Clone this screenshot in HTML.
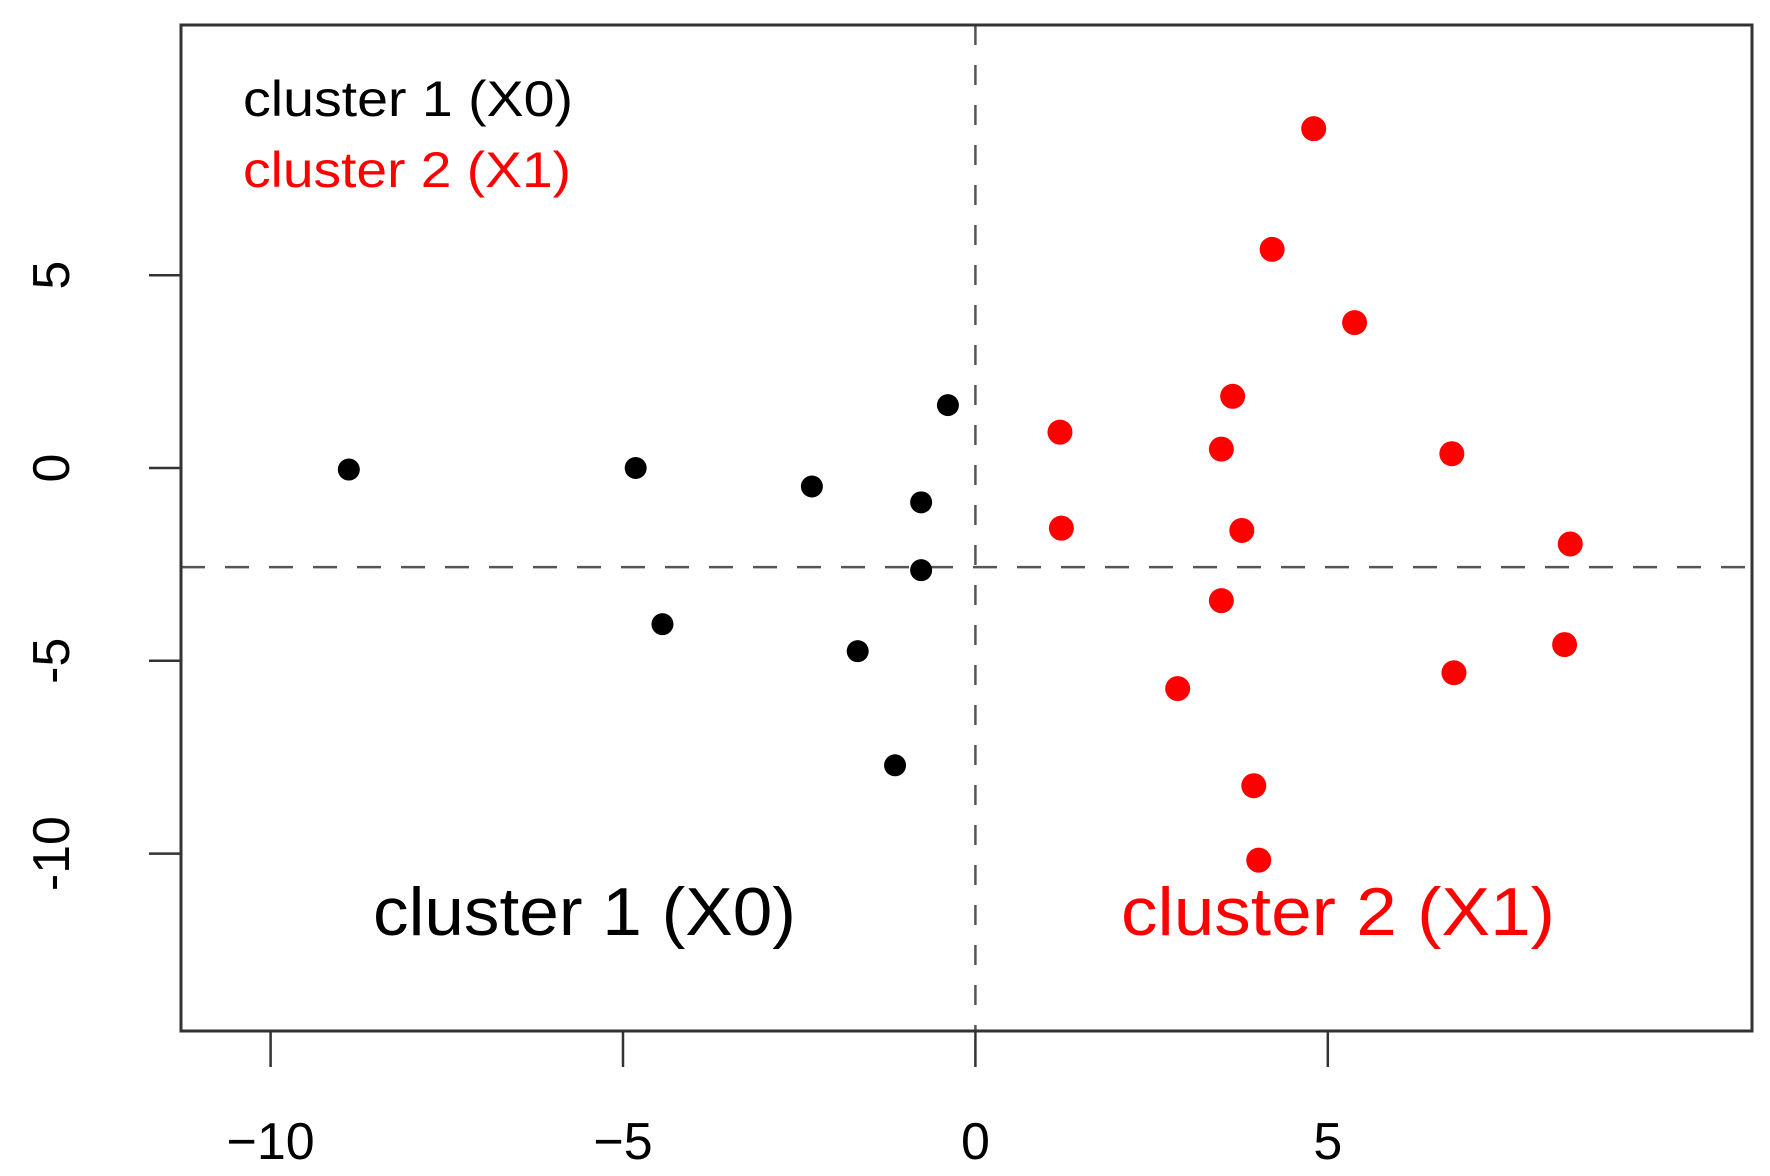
<!DOCTYPE html>
<html><head><meta charset="utf-8"><style>
html,body{margin:0;padding:0;background:#fff;}
svg{display:block;font-family:"Liberation Sans",Arial,sans-serif;}
</style></head><body>
<svg id="chart" width="1770" height="1176" viewBox="0 0 1770 1176" xmlns="http://www.w3.org/2000/svg">
<rect width="1770" height="1176" fill="#fff"/>
<g id="grid"></g>
<g id="points"></g>
<rect x="181" y="25" width="1571" height="1006" fill="none" stroke="#333" stroke-width="3"/>
<g id="axes"></g>
<text x="243" y="116" font-size="50" fill="#000" textLength="330" lengthAdjust="spacingAndGlyphs">cluster 1 (X0)</text>
<text x="243" y="187" font-size="50" fill="#ff0000" textLength="328" lengthAdjust="spacingAndGlyphs">cluster 2 (X1)</text>
<text x="373" y="935" font-size="68" fill="#000" textLength="423" lengthAdjust="spacingAndGlyphs">cluster 1 (X0)</text>
<text x="1121" y="935" font-size="68" fill="#ff0000" textLength="434" lengthAdjust="spacingAndGlyphs">cluster 2 (X1)</text>
</svg>
<script>
const cluster1X = [-8.89, -4.82, -4.44, -2.32, -1.67, -1.14, -0.77, -0.77, -0.39];
const cluster1Y = [-0.04, 0.0, -4.05, -0.48, -4.75, -7.71, -0.89, -2.65, 1.63];
const cluster2X = [4.80, 4.21, 5.38, 3.65, 1.20, 3.49, 6.76, 1.22, 3.78, 8.44, 3.49, 8.36, 6.79, 2.87, 3.95, 4.02];
const cluster2Y = [8.80, 5.67, 3.77, 1.86, 0.93, 0.49, 0.37, -1.56, -1.62, -1.97, -3.44, -4.58, -5.31, -5.72, -8.24, -10.17];
const xTicks = [-10, -5, 0, 5];
const yTicks = [5, 0, -5, -10];
const vLineX = [0];
const hLineY = [-2.57];

const NS = "http://www.w3.org/2000/svg";
const L = 181, R = 1752, T = 25, B = 1031;
function sx(v){ return 975.4 + v * 70.48; }
function sy(v){ return 468 - v * 38.56; }
function mk(tag, attrs, parent){
  const e = document.createElementNS(NS, tag);
  for (const k in attrs) e.setAttribute(k, attrs[k]);
  parent.appendChild(e);
  return e;
}
const grid = document.getElementById('grid');
const pts = document.getElementById('points');
const axes = document.getElementById('axes');

vLineX.forEach(v => {
  const l = mk('line', {x1: sx(v), x2: sx(v), y1: T, y2: B, stroke: '#555', 'stroke-width': 2.5, 'stroke-dasharray': '20 20'}, grid);
  
  
});
hLineY.forEach(v => {
  const l = mk('line', {x1: L, x2: R, y1: sy(v), y2: sy(v), stroke: '#555', 'stroke-width': 2.5, 'stroke-dasharray': '24 20'}, grid);
  
  
});

cluster1X.forEach((x, i) => {
  const c = mk('circle', {cx: sx(x), cy: sy(cluster1Y[i]), r: 11, fill: '#000'}, pts);
  
  
});
cluster2X.forEach((x, i) => {
  const c = mk('circle', {cx: sx(x), cy: sy(cluster2Y[i]), r: 12.5, fill: '#ff0000'}, pts);
  
  
});

const xa = mk('line', {x1: sx(xTicks[0]), x2: sx(xTicks[xTicks.length-1]), y1: B, y2: B, stroke: '#333', 'stroke-width': 3}, axes);


xTicks.forEach(v => {
  const t = mk('line', {x1: sx(v), x2: sx(v), y1: B, y2: 1067, stroke: '#333', 'stroke-width': 2.5}, axes);
  
  
  const tx = mk('text', {x: sx(v), y: 1159, 'font-size': 52, 'text-anchor': 'middle', fill: '#000'}, axes);
  
  
  tx.textContent = String(v).replace('-', '\u2212');
});
yTicks.forEach(v => {
  const t = mk('line', {x1: 149, x2: L, y1: sy(v), y2: sy(v), stroke: '#333', 'stroke-width': 2.5}, axes);
  
  
  const tx = mk('text', {x: 0, y: 0, 'font-size': 52, 'text-anchor': 'middle', fill: '#000', transform: 'translate(69,' + sy(v) + ') rotate(-90)'}, axes);
  
  
  tx.textContent = String(v);
});
</script>
</body></html>
